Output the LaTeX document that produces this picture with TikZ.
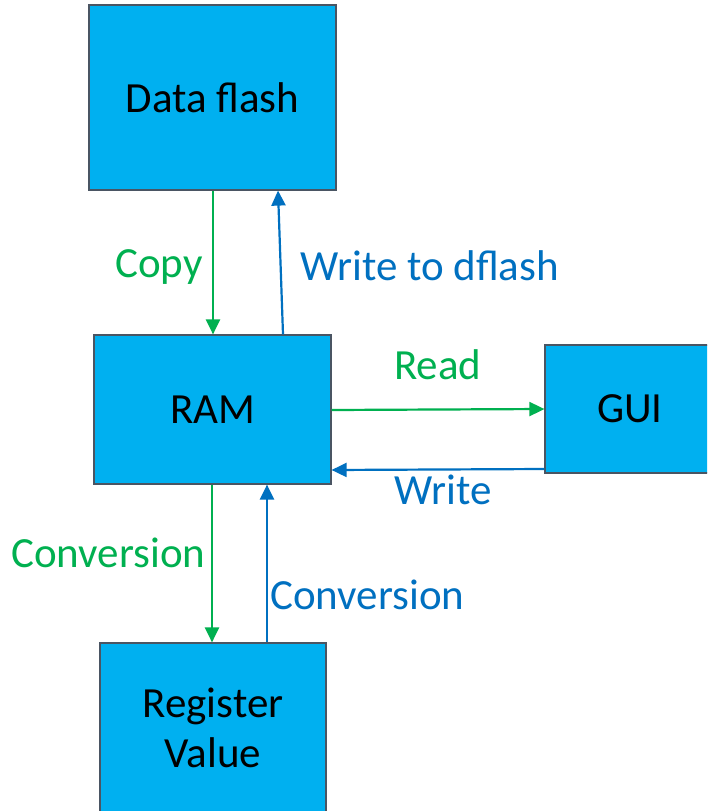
\documentclass[tikz,border=0pt]{standalone}
\usepackage{fontspec}
\setmainfont{Carlito}
\usetikzlibrary{arrows.meta}
\definecolor{boxfill}{HTML}{00B0F0}
\definecolor{boxline}{HTML}{4A5563}
\definecolor{mygreen}{HTML}{00B050}
\definecolor{myblue}{HTML}{0070C0}
\tikzset{
  box/.style={draw=boxline, fill=boxfill, line width=1.2pt, inner sep=0pt,
    font=\fontsize{43}{50}\selectfont, align=center, text=black},
  garrow/.style={draw=mygreen, line width=2.2pt, -{Triangle[length=15pt,width=14pt]}},
  barrow/.style={draw=myblue, line width=2.2pt, -{Triangle[length=15pt,width=14pt]}},
  glabel/.style={text=mygreen, font=\fontsize{43}{50}\selectfont, anchor=base west, inner sep=0pt},
  blabel/.style={text=myblue, font=\fontsize{43}{50}\selectfont, anchor=base west, inner sep=0pt}
}
\begin{document}
\begin{tikzpicture}[x=1pt,y=-1pt]
\useasboundingbox (0,0) rectangle (707,811);
\clip (0,0) rectangle (707,811);
\fill[white] (0,0) rectangle (707,811);
\node[box, minimum width=247pt, minimum height=185pt] (df) at (212.5,97.5) {Data flash};
\node[box, minimum width=237pt, minimum height=149pt] (ram) at (212.5,409.5) {RAM};
\node[box, minimum width=170pt, minimum height=128pt] (gui) at (630,409) {GUI};
\node[box, minimum width=226pt, minimum height=170pt] (reg) at (213,728) {Register\\Value};

\draw[garrow] ([xshift=0.5pt]df.south) -- ([xshift=0.5pt]ram.north);
\draw[barrow] ([xshift=70.5pt]ram.north) -- ([xshift=65.5pt]df.south);
\draw[garrow] ([yshift=-0.5pt]ram.east) -- (gui.west);
\draw[barrow] ([yshift=-60pt]gui.west) -- ([yshift=-60.5pt]ram.east);
\draw[garrow] ([xshift=-0.5pt]ram.south) -- ([xshift=-1pt]reg.north);
\draw[barrow] ([xshift=54pt]reg.north) -- ([xshift=54.5pt]ram.south);

\node[glabel] (lcopy) at (115,277) {Copy};
\node[blabel] (lwdf) at (300,280) {Write to dflash};
\node[glabel] (lread) at (394,379) {Read};
\node[blabel] (lwrite) at (394,504) {Write};
\node[glabel] (lconv1) at (11,567) {Conversion};
\node[blabel] (lconv2) at (270,609) {Conversion};
\end{tikzpicture}
\end{document}
